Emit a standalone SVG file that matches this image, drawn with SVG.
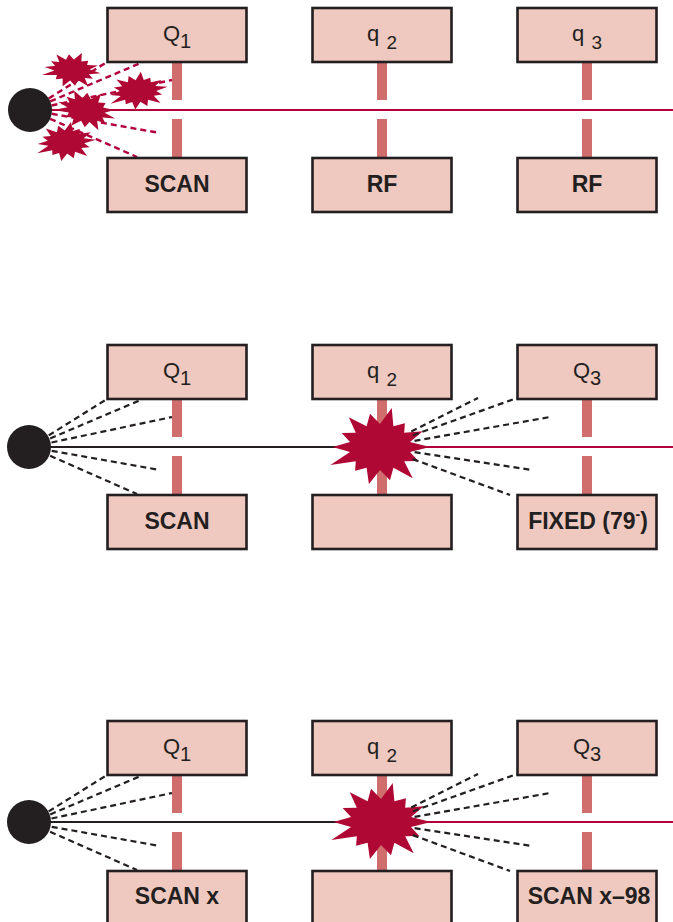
<svg xmlns="http://www.w3.org/2000/svg" width="673" height="922" viewBox="0 0 673 922">
  <style>
    .box { fill: #efc8bf; stroke: #231f20; stroke-width: 2.6; }
    .rod { fill: #d06e6e; }
    .lbl { font-family: "Liberation Sans", Arial, sans-serif; font-size: 22px; fill: #231f20; text-anchor: middle; }
    .bold { font-weight: bold; font-size: 23px; }
    .beam-red { stroke: #b4003a; stroke-width: 2.2; fill: none; }
    .beam-black { stroke: #231f20; stroke-width: 2.2; fill: none; }
    .fan-red { stroke: #b4003a; stroke-width: 2.4; stroke-dasharray: 6 4; fill: none; }
    .fan-black { stroke: #231f20; stroke-width: 2.2; stroke-dasharray: 6 4; fill: none; }
    .burst { fill: #b00834; }
    .source { fill: #231f20; }
  </style>
  <defs>
    <!-- spiky collision burst, centred on the origin -->
    <polygon id="burst" points="50,0 30,5.1 38.3,14 24.2,14.3 32.7,31.2 13.4,20.7 10,33.3 0,23 -11.1,37 -13.4,20.7 -24.9,23.8 -24.2,14.3 -49.6,18.1 -30,5.1 -47.5,0 -30,-5.1 -38.3,-14 -24.2,-14.3 -31.2,-29.7 -13.4,-20.7 -10,-33.3 0,-23 11.7,-38.9 13.4,-20.7 24.9,-23.8 24.2,-14.3 42.8,-15.7 30,-5.1"/>
    <!-- quadrupole: upper box, split rods, lower box -->
    <g id="quad">
      <rect class="rod" x="-5" y="62" width="10" height="38"/>
      <rect class="rod" x="-5" y="119" width="10" height="39"/>
      <rect class="box" x="-69.5" y="8" width="139" height="54"/>
      <rect class="box" x="-69.5" y="158" width="139" height="54"/>
    </g>
    <!-- fan of scattered ions leaving the source -->
    <g id="fan-source">
      <line x1="48.7" y1="98.4" x2="107" y2="62"/>
      <line x1="50.2" y1="101.4" x2="143" y2="62"/>
      <line x1="51.5" y1="105.5" x2="172" y2="80"/>
      <line x1="51.7" y1="113.8" x2="160" y2="133"/>
      <line x1="50.1" y1="118.8" x2="137" y2="157"/>
    </g>
    <!-- fan of fragments leaving the collision cell -->
    <g id="fan-cell">
      <line x1="411.3" y1="94.4" x2="478" y2="61"/>
      <line x1="413" y1="98.2" x2="517" y2="61"/>
      <line x1="414.5" y1="103.9" x2="550" y2="80"/>
      <line x1="414.6" y1="115.2" x2="532" y2="133"/>
      <line x1="412.8" y1="122.1" x2="510" y2="158"/>
    </g>
  </defs>

  <!-- Scan mode 1: Q1 scanning, q2 and q3 in RF-only -->
  <g id="panel-1">
    <g id="p1-connectors">
      <line class="beam-red" x1="30" y1="110" x2="673" y2="110"/>
      <use href="#fan-source" class="fan-red"/>
    </g>
    <g id="p1-q1">
      <use href="#quad" x="177"/>
      <text class="lbl" x="177" y="41">Q<tspan dy="7" font-size="20">1</tspan></text>
      <text class="lbl bold" x="177" y="191.5">SCAN</text>
    </g>
    <g id="p1-q2">
      <use href="#quad" x="382"/>
      <text class="lbl" x="382" y="41">q<tspan dx="2" dy="7.5" font-size="19"> 2</tspan></text>
      <text class="lbl bold" x="382" y="191.5">RF</text>
    </g>
    <g id="p1-q3">
      <use href="#quad" x="587"/>
      <text class="lbl" x="587" y="41">q<tspan dx="2" dy="7.5" font-size="19"> 3</tspan></text>
      <text class="lbl bold" x="587" y="191.5">RF</text>
    </g>
    <g id="p1-source">
      <circle class="source" cx="30" cy="110" r="22"/>
    </g>
    <g id="p1-bursts">
      <use href="#burst" class="burst" transform="translate(72,70) scale(0.58,0.46) rotate(8)"/>
      <use href="#burst" class="burst" transform="translate(138,91) scale(0.6,0.48) rotate(-10)"/>
      <use href="#burst" class="burst" transform="translate(86,110) scale(0.62,0.5) rotate(20)"/>
      <use href="#burst" class="burst" transform="translate(66,142) scale(0.6,0.5) rotate(-5)"/>
    </g>
  </g>

  <!-- Scan mode 2: product ion scan with Q3 fixed -->
  <g id="panel-2" transform="translate(0,337)">
    <g id="p2-connectors">
      <line class="beam-black" x1="30" y1="110" x2="380" y2="110"/>
      <line class="beam-red" x1="380" y1="110" x2="673" y2="110"/>
      <use href="#fan-source" class="fan-black"/>
    </g>
    <g id="p2-q1">
      <use href="#quad" x="177"/>
      <text class="lbl" x="177" y="41">Q<tspan dy="7" font-size="20">1</tspan></text>
      <text class="lbl bold" x="177" y="192">SCAN</text>
    </g>
    <g id="p2-q2">
      <use href="#quad" x="382"/>
      <text class="lbl" x="382" y="41">q<tspan dx="2" dy="7.5" font-size="19"> 2</tspan></text>
    </g>
    <g id="p2-q3">
      <use href="#quad" x="587"/>
      <text class="lbl" x="587" y="41">Q<tspan dy="7" font-size="20">3</tspan></text>
      <text class="lbl bold" x="588" y="192">FIXED (79<tspan dy="-10" font-size="14">-</tspan><tspan dy="10">)</tspan></text>
    </g>
    <g id="p2-source">
      <circle class="source" cx="29" cy="110" r="22"/>
    </g>
    <g id="p2-cell">
      <use href="#burst" class="burst" x="380" y="110"/>
      <use href="#fan-cell" class="fan-black"/>
    </g>
  </g>

  <!-- Scan mode 3: constant neutral loss scan -->
  <g id="panel-3" transform="translate(0,713)">
    <g id="p3-connectors">
      <line class="beam-black" x1="30" y1="109" x2="380" y2="109"/>
      <line class="beam-red" x1="380" y1="109" x2="673" y2="109"/>
      <use href="#fan-source" class="fan-black"/>
    </g>
    <g id="p3-q1">
      <use href="#quad" x="177"/>
      <text class="lbl" x="177" y="41">Q<tspan dy="7" font-size="20">1</tspan></text>
      <text class="lbl bold" x="177" y="190.5">SCAN x</text>
    </g>
    <g id="p3-q2">
      <use href="#quad" x="382"/>
      <text class="lbl" x="382" y="41">q<tspan dx="2" dy="7.5" font-size="19"> 2</tspan></text>
    </g>
    <g id="p3-q3">
      <use href="#quad" x="587"/>
      <text class="lbl" x="587" y="41">Q<tspan dy="7" font-size="20">3</tspan></text>
      <text class="lbl bold" x="589" y="190.5">SCAN x–98</text>
    </g>
    <g id="p3-source">
      <circle class="source" cx="29" cy="109" r="22"/>
    </g>
    <g id="p3-cell">
      <use href="#burst" class="burst" x="381" y="109"/>
      <use href="#fan-cell" class="fan-black"/>
    </g>
  </g>
</svg>
